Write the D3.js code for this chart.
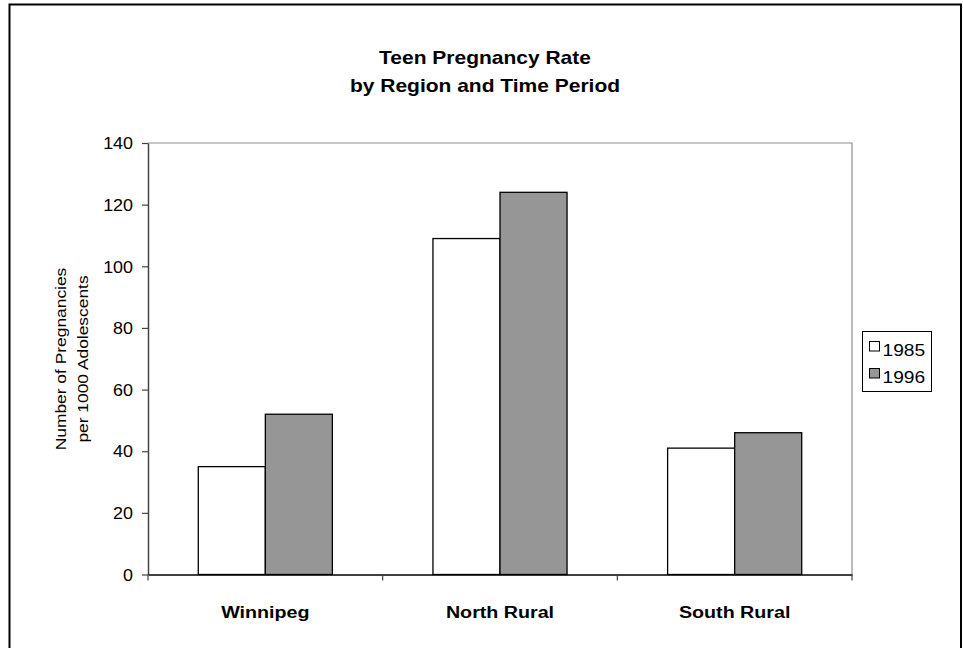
<!DOCTYPE html>
<html>
<head>
<meta charset="utf-8">
<script src="https://cdn.jsdelivr.net/npm/d3@7"></script>
<style>
html,body{margin:0;padding:0;background:#fff;}
svg{display:block;font-family:"Liberation Sans",Arial,sans-serif;}
</style>
</head>
<body>
<svg id="chart" width="963" height="648"></svg>
<script>
const categories = ["Winnipeg", "North Rural", "South Rural"];
const seriesNames = ["1985", "1996"];
const values1985 = [35, 109, 41];
const values1996 = [52, 124, 46];
const yTicks = [0, 20, 40, 60, 80, 100, 120, 140];
const titleLines = ["Teen Pregnancy Rate", "by Region and Time Period"];
const yTitleLines = ["Number of Pregnancies", "per 1000 Adolescents"];
const seriesColors = ["#ffffff", "#969696"];

const svg = d3.select("#chart");
const plot = {left: 148, right: 852, top: 143, bottom: 574.5};

// outer frame
svg.append("rect").attr("x", 9.5).attr("y", 4.5).attr("width", 951.5).attr("height", 660)
  .attr("fill", "none").attr("stroke", "#000").attr("stroke-width", 2);

const x = d3.scaleBand().domain(categories).range([plot.left, plot.right]).paddingInner(0).paddingOuter(0);
const xs = d3.scaleBand().domain(seriesNames).range([0, x.bandwidth()]).paddingInner(0).paddingOuter(0.75);
const y = d3.scaleLinear().domain([0, 140]).range([plot.bottom, plot.top]);

// plot area border top/right
svg.append("path").attr("d", `M${plot.left},${plot.top}H${plot.right}V${plot.bottom}`)
  .attr("fill", "none").attr("stroke", "#909090").attr("stroke-width", 1.2);

// bars
const data = categories.map((c, i) => ({cat: c, vals: [values1985[i], values1996[i]]}));
const g = svg.append("g");
data.forEach(d => {
  d.vals.forEach((v, j) => {
    g.append("rect")
      .attr("x", x(d.cat) + xs(seriesNames[j]))
      .attr("y", y(v))
      .attr("width", xs.bandwidth())
      .attr("height", y(0) - y(v))
      .attr("fill", seriesColors[j])
      .attr("stroke", "#000").attr("stroke-width", 1.3);
  });
});

// y axis
const yAxis = d3.axisLeft(y).tickValues(yTicks).tickSize(6).tickPadding(9).tickSizeOuter(0);
const ya = svg.append("g").attr("transform", `translate(${plot.left},0)`).call(yAxis);
ya.select(".domain").attr("stroke", "#444").attr("stroke-width", 1.5);
ya.selectAll(".tick line").attr("stroke", "#444").attr("stroke-width", 1.2);
ya.selectAll(".tick text").attr("font-size", 16).attr("font-family", "Liberation Sans, Arial, sans-serif")
  .attr("fill", "#000").attr("dy", "0.36em")
  .attr("x", 0).attr("transform", "translate(-15,0) scale(1.12,1)");

// x axis
const xAxis = d3.axisBottom(x).tickSize(0).tickPadding(0).tickSizeOuter(0);
const xa = svg.append("g").attr("transform", `translate(0,${plot.bottom})`).call(xAxis);
xa.select(".domain").attr("stroke", "#000").attr("stroke-width", 1.5);
xa.selectAll(".tick text").attr("font-size", 16).attr("font-weight", "bold")
  .attr("font-family", "Liberation Sans, Arial, sans-serif").attr("fill", "#000")
  .attr("y", 0).attr("dy", 0)
  .attr("transform", "translate(0,43) scale(1.23,1)");
// category boundary ticks
const bounds = categories.map(c => x(c)).concat([plot.right]);
xa.selectAll(".bound").data(bounds).enter().append("line").attr("class", "bound")
  .attr("x1", d => d).attr("x2", d => d).attr("y1", 0).attr("y2", 6)
  .attr("stroke", "#444").attr("stroke-width", 1.2);

// title
titleLines.forEach((t, i) => {
  svg.append("text").text(t).attr("text-anchor", "middle")
    .attr("font-size", 17.5).attr("font-weight", "bold").attr("fill", "#000")
    .attr("transform", `translate(485,${64 + i * 28}) scale(1.2,1)`);
});

// y axis title
yTitleLines.forEach((t, i) => {
  svg.append("text").text(t).attr("text-anchor", "middle")
    .attr("font-size", 14.5).attr("fill", "#000")
    .attr("transform", `translate(${66 + i * 22},359) rotate(-90) scale(1.2,1)`);
});

// legend
const lg = svg.append("g");
lg.append("rect").attr("x", 862.5).attr("y", 331.5).attr("width", 69).attr("height", 60)
  .attr("fill", "#fff").attr("stroke", "#000").attr("stroke-width", 1);
seriesNames.forEach((s, i) => {
  lg.append("rect").attr("x", 869.5).attr("y", 341.5 + i * 27).attr("width", 10).attr("height", 9.5)
    .attr("fill", seriesColors[i]).attr("stroke", "#000").attr("stroke-width", 1);
  lg.append("text").text(s).attr("font-size", 16).attr("fill", "#000")
    .attr("transform", `translate(882.5,${356 + i * 27}) scale(1.2,1)`);
});
</script>
</body>
</html>
